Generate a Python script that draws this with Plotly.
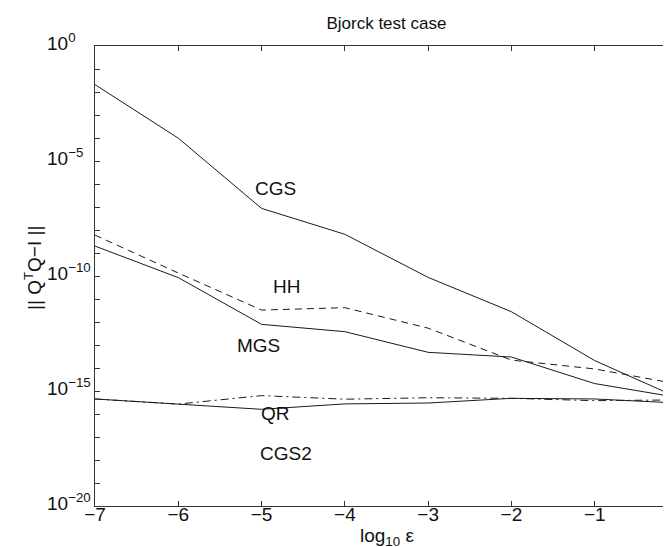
import plotly.graph_objects as go

x_vals = [-7, -6, -5, -4, -3, -2, -1, 0]
cgs = [2.1e-2, 9.8e-5, 8.7e-8, 6.5e-9, 8.7e-11, 2.8e-12, 2.1e-14, 5.1e-16]
mgs = [2.0e-9, 8.5e-11, 7.9e-13, 3.8e-13, 4.8e-14, 3.0e-14, 2.1e-15, 5.2e-16]
hh = [6.0e-9, 1.35e-10, 3.3e-12, 4.2e-12, 5.4e-13, 2.2e-14, 9.1e-15, 2.0e-15]
qr = [4.5e-16, 2.7e-16, 6.3e-16, 4.4e-16, 5.1e-16, 4.8e-16, 3.8e-16, 4.1e-16]
cgs2 = [4.5e-16, 2.6e-16, 1.6e-16, 2.75e-16, 3.0e-16, 4.8e-16, 4.5e-16, 3.0e-16]

series_names = ["CGS", "HH", "MGS", "QR", "CGS2"]
label_x = [-4.83, -4.70, -5.04, -4.83, -4.71]
label_logy = [-6.19, -10.45, -13.01, -15.97, -17.71]

y_tick_exps = list(range(0, -21, -1))
y_label_exps = [0, -5, -10, -15, -20]
y_label_text = ["10<sup>0</sup>", "10<sup>\u22125</sup>", "10<sup>\u221210</sup>",
                "10<sup>\u221215</sup>", "10<sup>\u221220</sup>"]
x_ticktext = ["\u22127", "\u22126", "\u22125", "\u22124", "\u22123", "\u22122", "\u22121", "0"]

col = "#1a1a1a"
txt = "#111"
fig = go.Figure()
styles = [
    ("CGS", cgs, "solid"),
    ("HH", hh, "7px,5px"),
    ("MGS", mgs, "solid"),
    ("QR", qr, "8px,4px,2px,4px"),
    ("CGS2", cgs2, "solid"),
]
for name, ys, dash in styles:
    fig.add_trace(go.Scatter(x=x_vals, y=ys, mode="lines", name=name,
                             line=dict(color=col, width=1, dash=dash)))

for name, lx, ly in zip(series_names, label_x, label_logy):
    fig.add_annotation(x=lx, y=ly, text=name, showarrow=False,
                       font=dict(size=19, color=txt), xanchor="center", yanchor="middle")

# y tick labels (left-aligned, as in the reference)
for e, t in zip(y_label_exps, y_label_text):
    fig.add_annotation(x=0, xref="paper", y=e, yref="y", text=t, showarrow=False,
                       xanchor="left", yanchor="middle", xshift=-50, yshift=4,
                       font=dict(size=19, color=txt))

# axis titles
fig.add_annotation(x=0.5, xref="paper", y=0, yref="paper", text="log<sub>10</sub> \u03b5",
                   showarrow=False, xanchor="center", yanchor="middle", yshift=-31,
                   font=dict(size=19, color=txt))
fig.add_annotation(x=0, xref="paper", y=0.5, yref="paper", text="|| Q<sup>T</sup>Q\u2212I ||",
                   showarrow=False, textangle=-90, xanchor="center", yanchor="middle",
                   xshift=-62, yshift=8, font=dict(size=19, color=txt))

axis_common = dict(showgrid=False, zeroline=False, showline=True, linecolor="#333",
                   linewidth=1, mirror="ticks", ticks="inside", ticklen=5, automargin=False,
                   tickcolor="#333", tickfont=dict(size=19, color=txt))

fig.update_xaxes(range=[-7, 0], tickvals=x_vals, ticktext=x_ticktext,
                 ticklabeloverflow="allow", ticklabelstandoff=-9, **axis_common)
fig.update_yaxes(type="log", range=[-20, 0], tickvals=[10.0 ** e for e in y_tick_exps],
                 showticklabels=False, **axis_common)

fig.update_layout(
    width=671, height=547,
    margin=dict(l=87, r=1, t=38, b=49),
    paper_bgcolor="white", plot_bgcolor="white",
    showlegend=False,
    font=dict(family="Liberation Sans, Arial, sans-serif", color=txt),
    title=dict(text="Bjorck test case", x=0.564, xanchor="center", y=0.973, yanchor="middle",
               font=dict(size=17, color=txt)),
)

fig.write_html("out.html")
